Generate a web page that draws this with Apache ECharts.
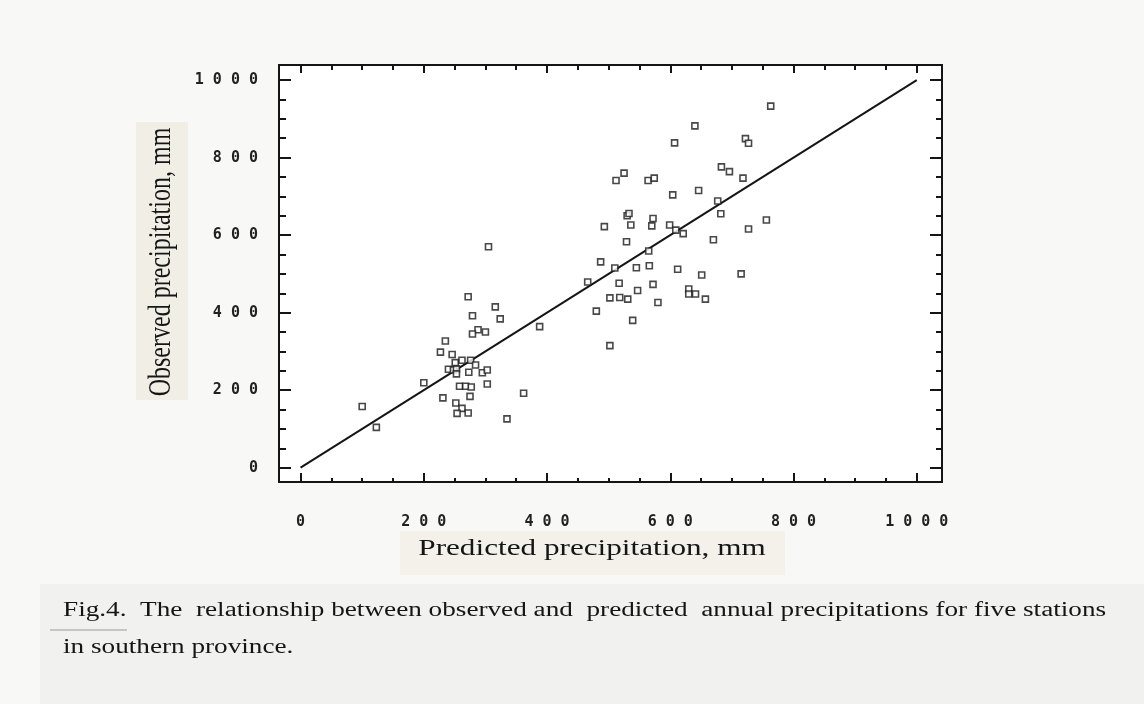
<!DOCTYPE html>
<html>
<head>
<meta charset="utf-8">
<title>Observed vs predicted annual precipitation</title>
<script src="https://cdn.jsdelivr.net/npm/echarts@6/dist/echarts.min.js"></script>
<style>
  html, body { margin: 0; padding: 0; background: #f8f8f7; }
  #chart { width: 1144px; height: 704px; }
</style>
</head>
<body>
<div id="chart"></div>
<script>
// predicted (x) and observed (y) annual precipitation, mm
const predicted = [
  100, 123, 200, 227, 235, 240, 248, 253, 246, 251, 262, 276, 284, 253, 273, 295, 303,
  258, 268, 277, 303, 231, 275, 252, 262, 254, 272, 335, 362, 272, 316, 279, 324, 288,
  300, 279, 388, 305,
  525, 512, 564, 574, 530, 533, 572, 493, 536, 570, 529, 487, 510, 545, 566, 466, 517,
  572, 547, 502, 518, 531, 580, 480, 539, 502, 763, 640, 607, 722, 727, 683, 696, 718,
  646, 604, 677, 682, 756, 599, 609, 621, 727, 670, 565, 612, 651, 715, 630, 630, 641, 657
];
const observed = [
  158, 104, 219, 298, 327, 254, 252, 255, 292, 271, 277, 277, 265, 242, 246, 245, 252,
  210, 210, 208, 216, 180, 184, 167, 153, 140, 141, 126, 192, 441, 415, 392, 384, 356,
  350, 345, 364, 570,
  760, 741, 741, 747, 650, 656, 643, 622, 626, 624, 583, 531, 515, 516, 521, 479, 476,
  473, 457, 438, 439, 435, 426, 404, 380, 315, 933, 882, 838, 849, 837, 776, 764, 747,
  715, 704, 688, 655, 639, 626, 613, 604, 616, 588, 559, 512, 497, 500, 461, 448, 448, 435
];
const fitLine = [[0, 0], [1000, 1000]];
const majorTicks = [0, 200, 400, 600, 800, 1000];
const minorTicks = [50, 100, 150, 250, 300, 350, 450, 500, 550, 650, 700, 750, 850, 900, 950];

const xTitle = 'Predicted precipitation, mm';
const yTitle = 'Observed precipitation, mm';
const captionLines = [
  'Fig.4.  The  relationship between observed and  predicted  annual precipitations for five stations',
  'in southern province.'
];

const points = predicted.map((x, i) => [x, observed[i]]);

const xRange = [-35, 1041];
const yRange = [-37, 1039];
const ink = '#151515';
const tickFont = {
  fontFamily: 'DejaVu Sans Mono',
  fontWeight: 'bold',
  fontSize: 15,
  color: '#222'
};
const spaced = (v) => String(v).split('').join(' ');

function makeAxis(position, values, length, labelled, range) {
  return {
    type: 'value',
    position: position,
    min: range[0],
    max: range[1],
    axisLine: { show: false, onZero: false },
    splitLine: { show: false },
    axisTick: {
      show: true,
      inside: true,
      length: length,
      customValues: values,
      lineStyle: { color: ink, width: 2 }
    },
    axisLabel: labelled
      ? Object.assign({ show: true, customValues: majorTicks, formatter: spaced,
          margin: position === 'bottom' ? 33 : 21 }, tickFont)
      : { show: false }
  };
}

const chart = echarts.init(document.getElementById('chart'));

chart.setOption({
  backgroundColor: '#f8f8f7',
  animation: false,
  grid: {
    left: 279,
    top: 65,
    width: 663,
    height: 417,
    show: true,
    backgroundColor: '#ffffff',
    borderColor: ink,
    borderWidth: 2
  },
  xAxis: [
    makeAxis('bottom', majorTicks, 9, true, xRange),
    makeAxis('bottom', minorTicks, 4, false, xRange),
    makeAxis('top', majorTicks, 8, false, xRange),
    makeAxis('top', minorTicks, 5, false, xRange)
  ],
  yAxis: [
    makeAxis('left', majorTicks, 12, true, yRange),
    makeAxis('left', minorTicks, 7, false, yRange),
    makeAxis('right', majorTicks, 12, false, yRange),
    makeAxis('right', minorTicks, 6, false, yRange)
  ],
  series: [
    {
      type: 'line',
      data: fitLine,
      showSymbol: false,
      silent: true,
      lineStyle: { color: ink, width: 2 },
      z: 2
    },
    {
      type: 'scatter',
      data: points,
      symbol: 'rect',
      symbolSize: 6,
      itemStyle: { color: '#ffffff', borderColor: '#1a1a1a', borderWidth: 1.6 },
      z: 3
    }
  ],
  graphic: [
    // pasted axis-title strips
    { type: 'rect', shape: { x: 136, y: 122, width: 52, height: 278 },
      style: { fill: '#f1eee6' }, z: -1 },
    { type: 'text', x: 162, y: 262, rotation: Math.PI / 2, scaleY: 1.3,
      style: { text: yTitle, font: '24px "Liberation Serif"', fill: ink,
        align: 'center', verticalAlign: 'middle' } },
    { type: 'rect', shape: { x: 400, y: 531, width: 385, height: 44 },
      style: { fill: '#f3f1ea' }, z: -1 },
    { type: 'text', x: 592, y: 549, scaleX: 1.3,
      style: { text: xTitle, font: '24px "Liberation Serif"', fill: ink,
        align: 'center', verticalAlign: 'middle' } },
    // caption block
    { type: 'rect', shape: { x: 40, y: 584, width: 1104, height: 120 },
      style: { fill: '#f1f1ef' }, z: -1 },
    { type: 'line', shape: { x1: 50, y1: 630, x2: 127, y2: 630 },
      style: { stroke: '#9a9a9a', lineWidth: 1 } },
    { type: 'text', x: 63, y: 611, scaleX: 1.36,
      style: { text: captionLines[0], font: '20px "Liberation Serif"', fill: ink,
        align: 'left', verticalAlign: 'middle' } },
    { type: 'text', x: 63, y: 648, scaleX: 1.36,
      style: { text: captionLines[1], font: '20px "Liberation Serif"', fill: ink,
        align: 'left', verticalAlign: 'middle' } }
  ]
});
</script>
</body>
</html>
